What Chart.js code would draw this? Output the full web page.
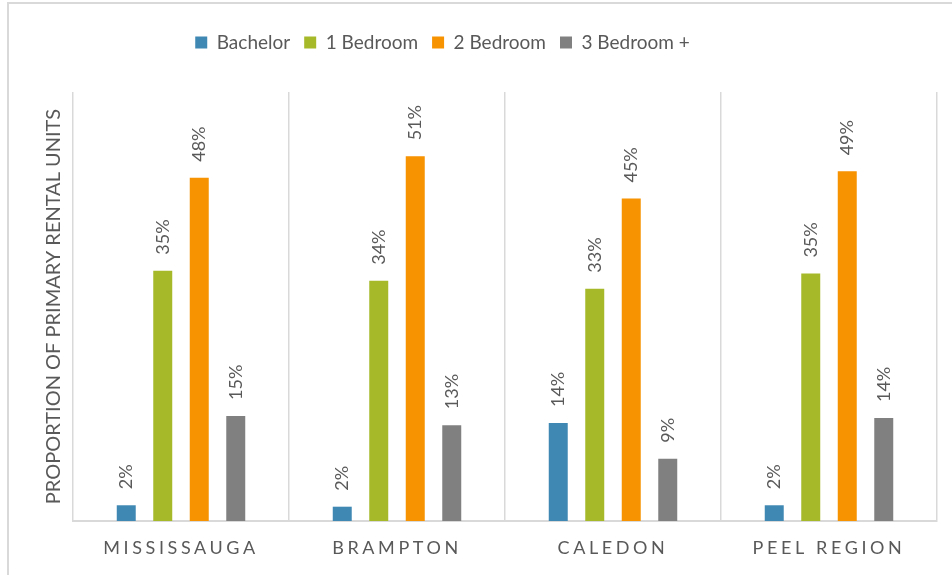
<!DOCTYPE html>
<html>
<head>
<meta charset="utf-8">
<script src="https://cdn.jsdelivr.net/npm/chart.js@4"></script>
<style>
body { margin: 0; background: #fff; overflow: hidden; }
#frame { position: absolute; left: 7px; top: 2px; width: 960px; height: 600px; border: 2px solid #d9d9d9; box-sizing: border-box; }
#wrap { position: absolute; left: 0; top: 0; width: 952px; height: 575px; }
</style>
</head>
<body>
<div id="frame"></div>
<div id="wrap"><canvas id="myChart"></canvas></div>
<script>
// values, in percent
const regions = ['MISSISSAUGA', 'BRAMPTON', 'CALEDON', 'PEEL REGION']
const bachelor = [2.2, 2.0, 13.7, 2.2]
const oneBed = [35.0, 33.6, 32.5, 34.6]
const twoBed = [48.0, 51.0, 45.1, 48.9]
const threeBed = [14.7, 13.4, 8.7, 14.4]
const yMin = 0
const yMax = 60

const textColor = '#595959'
const fontName = 'Lato'

// extra room under the legend, and nudge it a bit left like the original
const legendGap = {
	id: 'legendGap',
	beforeInit(chart) {
		const fit = chart.legend.fit
		chart.legend.fit = function () {
			fit.bind(chart.legend)()
			this.height += 30
		}
	},
	afterLayout(chart) {
		chart.legend.left -= 26
		chart.legend.right -= 26
	},
}

// rotated % labels above each bar
const barLabels = {
	id: 'barLabels',
	afterDatasetsDraw(chart) {
		const c = chart.ctx
		c.save()
		c.font = '18px ' + fontName
		c.fillStyle = textColor
		c.textAlign = 'left'
		c.textBaseline = 'middle'
		chart.data.datasets.forEach((ds, i) => {
			chart.getDatasetMeta(i).data.forEach((bar, j) => {
				c.save()
				c.translate(bar.x, bar.y - 16)
				c.rotate(-Math.PI / 2)
				c.fillText(Math.round(ds.data[j]) + '%', 0, 0)
				c.restore()
			})
		})
		c.restore()
	},
}

// category names with wide letter spacing
const spacedTicks = {
	id: 'spacedTicks',
	afterDraw(chart) {
		const c = chart.ctx
		const sc = chart.scales.x
		c.save()
		c.font = '18px ' + fontName
		c.letterSpacing = '3.6px'
		c.fillStyle = textColor
		c.textAlign = 'center'
		c.textBaseline = 'middle'
		chart.data.labels.forEach((lab, i) => {
			c.fillText(lab, sc.getPixelForValue(i), 548)
		})
		c.restore()
	},
}

const ctx = document.getElementById('myChart')
const data = {
	labels: regions,
	datasets: [
		{ label: 'Bachelor', data: bachelor, backgroundColor: '#3f88b3' },
		{ label: '1 Bedroom', data: oneBed, backgroundColor: '#a6b929' },
		{ label: '2 Bedroom', data: twoBed, backgroundColor: '#f79200' },
		{ label: '3 Bedroom +', data: threeBed, backgroundColor: '#808080' },
	],
}
data.datasets.forEach(ds => {
	ds.barPercentage = 0.52
	ds.categoryPercentage = 0.676
})

const myChart = new Chart(ctx, {
	type: 'bar',
	data: data,
	plugins: [legendGap, barLabels, spacedTicks],
	options: {
		responsive: true,
		maintainAspectRatio: false,
		animation: false,
		layout: { padding: { top: 19, right: 15, bottom: 0, left: 0 } },
		plugins: {
			legend: {
				display: true,
				position: 'top',
				labels: {
					boxWidth: 12,
					boxHeight: 12,
					padding: 14,
					color: textColor,
					font: { family: fontName, size: 19 },
				},
			},
			tooltip: { enabled: false },
		},
		scales: {
			x: {
				grid: { color: '#d9d9d9', lineWidth: 1.5, drawTicks: false, offset: true },
				border: { color: '#d9d9d9', width: 2 },
				ticks: { display: false },
				afterFit(scale) { scale.height = 54 },
			},
			y: {
				min: yMin,
				max: yMax,
				grid: { display: false },
				border: { display: false },
				ticks: { display: false },
				title: {
					display: true,
					text: 'PROPORTION OF PRIMARY RENTAL UNITS',
					color: textColor,
					font: { family: fontName, size: 20 },
					padding: { top: 42, bottom: 0 },
				},
				afterFit(scale) { scale.width = 73 },
			},
		},
	},
})
</script>
</body>
</html>
